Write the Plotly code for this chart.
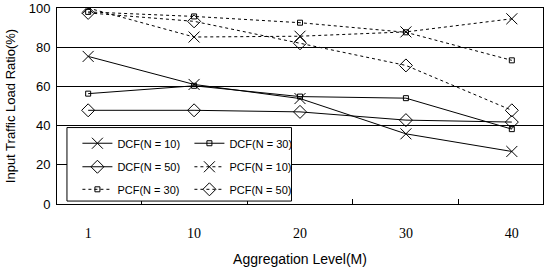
import plotly.graph_objects as go

categories = ["1", "10", "20", "30", "40"]
dcf_n10 = [75.3, 61, 53.8, 35.8, 26.8]
dcf_n30 = [56.3, 60.3, 54.8, 54, 38.2]
dcf_n50 = [47.8, 47.8, 47, 42.8, 41.8]
pcf_n10 = [100, 85.2, 85.6, 87.8, 94.5]
pcf_n30 = [98, 95.7, 92.5, 87.6, 73.3]
pcf_n50 = [97.5, 93.2, 82, 70.7, 47.8]

series = [
    ("DCF(N = 10)", dcf_n10, "solid", "x-thin-open", 11, "legend"),
    ("DCF(N = 30)", dcf_n30, "solid", "square-open", 5, "legend"),
    ("DCF(N = 50)", dcf_n50, "solid", "diamond-open", 10, "legend2"),
    ("PCF(N = 10)", pcf_n10, "dot", "x-thin-open", 11, "legend2"),
    ("PCF(N = 30)", pcf_n30, "dot", "square-open", 5, "legend3"),
    ("PCF(N = 50)", pcf_n50, "dot", "diamond-open", 10, "legend3"),
]

fig = go.Figure()
for name, vals, dash, sym, size, leg in series:
    fig.add_trace(go.Scatter(
        x=categories, y=vals, name=name, mode="lines+markers",
        line=dict(color="black", width=1, dash=dash),
        marker=dict(symbol=sym, size=size, color="black",
                    line=dict(color="black", width=1)),
        legend=leg,
    ))

leg_font = dict(size=11, family="Liberation Sans, Arial, sans-serif", color="black")


def leg(yc):
    return dict(
        orientation="h", x=0.042, y=yc, xanchor="left", yanchor="middle",
        entrywidth=67, entrywidthmode="pixels",
        bgcolor="rgba(0,0,0,0)", borderwidth=0, font=leg_font,
    )


fig.update_layout(
    width=545, height=267,
    margin=dict(l=57, r=1, t=4, b=63),
    plot_bgcolor="white", paper_bgcolor="white",
    font=dict(family="Liberation Sans, Arial, sans-serif", color="black", size=13),
    showlegend=True,
    legend=leg(0.31),
    legend2=leg(0.19),
    legend3=leg(0.075),
    shapes=[dict(
        type="rect", xref="paper", yref="paper",
        x0=0.0205, x1=0.4825, y0=0.015, y1=0.39,
        fillcolor="white", line=dict(color="black", width=1), layer="above",
    )],
)
fig.update_xaxes(
    type="category", showline=True, linecolor="black", linewidth=1, mirror=True,
    showgrid=False, ticks="inside", ticklen=5, tickcolor="black",
    tickson="boundaries", ticklabelstandoff=16,
    tickfont=dict(family="Liberation Serif, Times New Roman, serif", size=14),
    title=dict(text="Aggregation Level(M)", font=dict(size=14), standoff=14),
)
fig.update_yaxes(
    range=[0, 100], dtick=20, showline=True, linecolor="black", linewidth=1, mirror=True,
    showgrid=True, gridcolor="black", gridwidth=1, zeroline=False, ticks="",
    tickfont=dict(size=13), ticklabeloverflow="allow", ticklabelstandoff=3,
    title=dict(text="Input Traffic Load Ratio(%)", font=dict(size=13), standoff=10),
)

fig.write_html("out.html")
